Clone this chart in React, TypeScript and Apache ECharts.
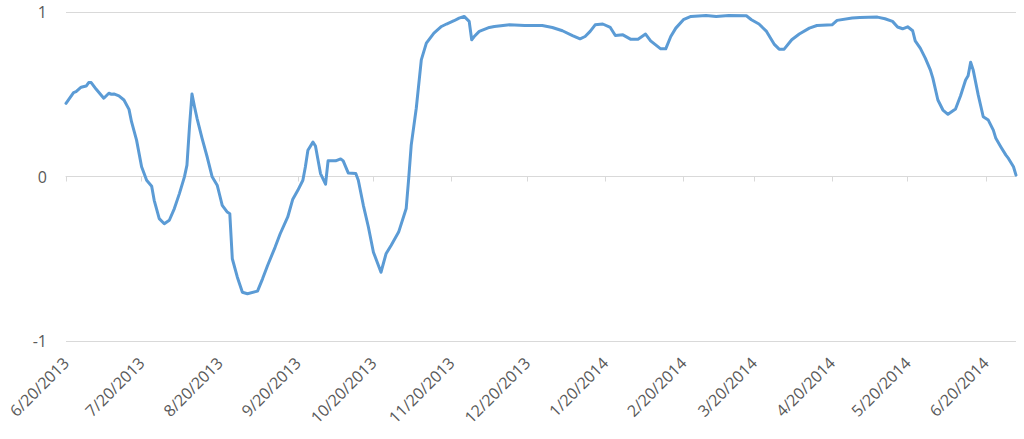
import React, { useEffect, useRef } from "react";
import * as echarts from "echarts";

// Axis range (calendar days)
const START = { y: 2013, m: 6, d: 20 };
const END = { y: 2014, m: 7, d: 2 };

// Y axis ticks
const yTicks = [-1, 0, 1];

const dates = [
  "6/20/2013", "6/23/2013", "6/24/2013", "6/26/2013", "6/28/2013", "6/29/2013", "6/30/2013",
  "7/2/2013", "7/5/2013", "7/7/2013", "7/8/2013", "7/9/2013", "7/11/2013", "7/13/2013",
  "7/15/2013", "7/16/2013", "7/18/2013", "7/20/2013", "7/22/2013", "7/24/2013", "7/25/2013",
  "7/27/2013", "7/29/2013", "7/31/2013", "8/2/2013", "8/4/2013", "8/6/2013", "8/7/2013",
  "8/8/2013", "8/9/2013", "8/10/2013", "8/11/2013", "8/13/2013", "8/15/2013", "8/17/2013",
  "8/19/2013", "8/20/2013", "8/21/2013", "8/23/2013", "8/24/2013", "8/25/2013", "8/27/2013",
  "8/29/2013", "8/31/2013", "9/4/2013", "9/6/2013", "9/8/2013", "9/11/2013", "9/13/2013",
  "9/16/2013", "9/18/2013", "9/20/2013", "9/22/2013", "9/23/2013", "9/24/2013", "9/26/2013",
  "9/27/2013", "9/29/2013", "10/1/2013", "10/2/2013", "10/5/2013", "10/7/2013", "10/8/2013",
  "10/10/2013", "10/13/2013", "10/14/2013", "10/16/2013", "10/18/2013", "10/20/2013",
  "10/23/2013", "10/25/2013", "10/27/2013", "10/30/2013", "11/2/2013", "11/3/2013",
  "11/4/2013", "11/6/2013", "11/8/2013", "11/10/2013", "11/13/2013", "11/16/2013",
  "11/18/2013", "11/21/2013", "11/23/2013", "11/25/2013", "11/27/2013", "11/28/2013",
  "11/29/2013", "12/1/2013", "12/5/2013", "12/7/2013", "12/13/2013", "12/19/2013",
  "12/26/2013", "12/30/2013", "1/3/2014", "1/7/2014", "1/10/2014", "1/12/2014", "1/14/2014",
  "1/16/2014", "1/19/2014", "1/22/2014", "1/24/2014", "1/27/2014", "1/30/2014", "2/2/2014",
  "2/5/2014", "2/7/2014", "2/9/2014", "2/11/2014", "2/13/2014", "2/15/2014", "2/17/2014",
  "2/20/2014", "2/23/2014", "3/1/2014", "3/5/2014", "3/10/2014", "3/17/2014", "3/19/2014",
  "3/22/2014", "3/25/2014", "3/28/2014", "3/30/2014", "4/1/2014", "4/4/2014", "4/7/2014",
  "4/11/2014", "4/14/2014", "4/20/2014", "4/22/2014", "4/28/2014", "5/1/2014", "5/8/2014",
  "5/11/2014", "5/14/2014", "5/16/2014", "5/18/2014", "5/20/2014", "5/22/2014", "5/23/2014",
  "5/25/2014", "5/27/2014", "5/29/2014", "5/30/2014", "6/1/2014", "6/3/2014", "6/5/2014",
  "6/8/2014", "6/10/2014", "6/12/2014", "6/13/2014", "6/14/2014", "6/15/2014", "6/17/2014",
  "6/19/2014", "6/21/2014", "6/23/2014", "6/24/2014", "6/26/2014", "6/28/2014", "6/29/2014",
  "7/1/2014", "7/2/2014",
];

const values = [
  0.445, 0.51, 0.516, 0.543, 0.55, 0.571, 0.571,
  0.53, 0.476, 0.506, 0.5, 0.502, 0.49, 0.465,
  0.408, 0.333, 0.221, 0.059, -0.023, -0.059, -0.145,
  -0.256, -0.287, -0.266, -0.195, -0.104, -0.002, 0.069,
  0.302, 0.502, 0.424, 0.354, 0.232, 0.12, -0.002,
  -0.053, -0.114, -0.175, -0.216, -0.226, -0.5, -0.612,
  -0.704, -0.713, -0.697, -0.622, -0.541, -0.429, -0.348,
  -0.246, -0.138, -0.084, -0.023, 0.059, 0.16, 0.209,
  0.185, 0.018, -0.047, 0.095, 0.095, 0.107, 0.095,
  0.022, 0.018, -0.023, -0.175, -0.307, -0.46,
  -0.582, -0.47, -0.419, -0.338, -0.195, -0.012,
  0.191, 0.415, 0.709, 0.811, 0.872, 0.912,
  0.927, 0.947, 0.963, 0.973, 0.943, 0.831,
  0.851, 0.882, 0.906, 0.912, 0.922, 0.918,
  0.918, 0.906, 0.886, 0.857, 0.837, 0.851, 0.882,
  0.922, 0.927, 0.906, 0.857, 0.861, 0.835, 0.835,
  0.866, 0.825, 0.8, 0.776, 0.776, 0.851, 0.902,
  0.953, 0.973, 0.979, 0.973, 0.979, 0.977, 0.953,
  0.927, 0.882, 0.805, 0.774, 0.774, 0.831, 0.866,
  0.902, 0.918, 0.922, 0.949, 0.963, 0.967, 0.969,
  0.959, 0.943, 0.909, 0.898, 0.91, 0.886, 0.825,
  0.78, 0.72, 0.648, 0.598, 0.465, 0.404, 0.378,
  0.41, 0.491, 0.587, 0.613, 0.695, 0.648, 0.496,
  0.363, 0.343, 0.282, 0.232, 0.18, 0.13, 0.11,
  0.059, 0.008,
];

const fmt = (dt: Date) => `${dt.getMonth() + 1}/${dt.getDate()}/${dt.getFullYear()}`;

function buildCategories(): string[] {
  const out: string[] = [];
  const endKey = `${END.m}/${END.d}/${END.y}`;
  for (let i = 0; i < 1000; i++) {
    const dt = new Date(START.y, START.m - 1, START.d + i);
    const k = fmt(dt);
    out.push(k);
    if (k === endKey) break;
  }
  return out;
}

const isTickDay = (_i: number, v: string) => String(v).split("/")[1] === "20";

export default function App() {
  const ref = useRef<HTMLDivElement>(null);

  useEffect(() => {
    if (!ref.current) return;
    const chart = echarts.init(ref.current, null, { renderer: "svg" });
    const categories = buildCategories();
    const lookup = new Map<string, number>();
    dates.forEach((d, i) => lookup.set(d, values[i]));
    const seriesData = categories.map((c) => (lookup.has(c) ? lookup.get(c)! : null));

    const font = "'Open Sans', 'Liberation Sans', sans-serif";
    const gridColor = "#d9d9d9";
    const textColor = "#595959";

    chart.setOption({
      animation: false,
      grid: { left: 66, right: 8, top: 12, bottom: 98, containLabel: false },
      xAxis: [
        {
          type: "category",
          data: categories,
          boundaryGap: false,
          position: "bottom",
          axisLine: { show: false, onZero: false },
          axisTick: { show: false },
          splitLine: { show: false },
          axisLabel: {
            interval: isTickDay,
            rotate: 45,
            margin: 19,
            color: textColor,
            fontFamily: font,
            fontSize: 16,
          },
        },
        {
          type: "category",
          data: categories,
          boundaryGap: false,
          position: "bottom",
          axisLine: { show: true, onZero: true, lineStyle: { color: gridColor, width: 1 } },
          axisTick: {
            show: true,
            interval: isTickDay,
            length: 5,
            lineStyle: { color: gridColor, width: 1 },
          },
          axisLabel: { show: false },
          splitLine: { show: false },
        },
      ],
      yAxis: {
        type: "value",
        min: yTicks[0],
        max: yTicks[yTicks.length - 1],
        interval: 1,
        axisLine: { show: false },
        axisTick: { show: false },
        axisLabel: {
          color: textColor,
          fontFamily: font,
          fontSize: 16,
          margin: 19,
        },
        splitLine: { show: true, lineStyle: { color: gridColor, width: 1 } },
      },
      series: [
        {
          type: "line",
          xAxisIndex: 0,
          data: seriesData,
          connectNulls: true,
          showSymbol: false,
          symbol: "none",
          smooth: false,
          lineStyle: { color: "#5b9bd5", width: 3, join: "round", cap: "round" },
        },
      ],
    });

    return () => chart.dispose();
  }, []);

  return (
    <div
      ref={ref}
      style={{ position: "fixed", left: 0, top: 0, width: 1024, height: 439, background: "#fff" }}
    />
  );
}
